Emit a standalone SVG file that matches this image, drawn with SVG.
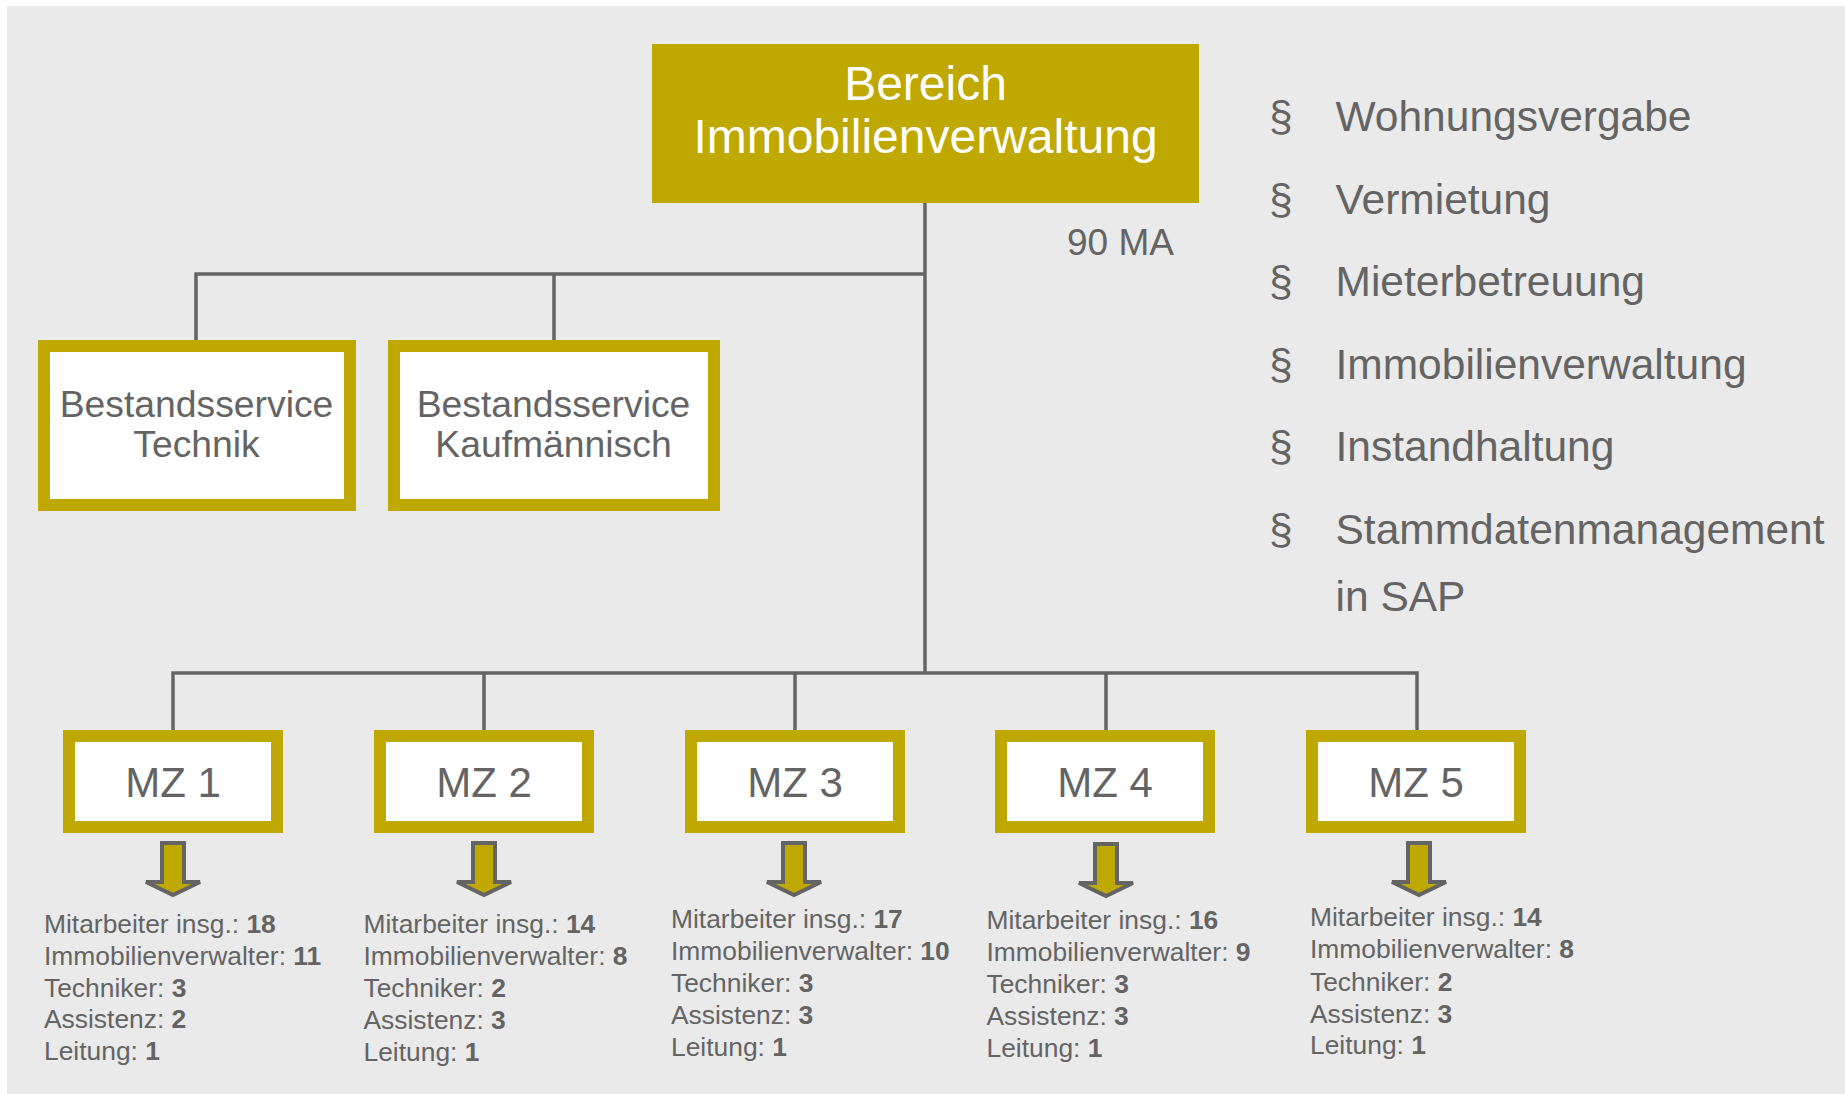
<svg xmlns="http://www.w3.org/2000/svg" width="1845" height="1094" viewBox="0 0 1845 1094">
<defs>
<style>
text{font-family:"Liberation Sans",Arial,sans-serif;fill:#646464}
.box{fill:#fff;stroke:#BFA800;stroke-width:12}
.ln{fill:none;stroke:#646464;stroke-width:3.5}
.arr{fill:#BFA800;stroke:#646464;stroke-width:4;stroke-linejoin:miter}
.top{font-size:48px;fill:#fff;text-anchor:middle}
.bs{font-size:37.3px;text-anchor:middle}
.mz{font-size:42px;text-anchor:middle}
.info{font-size:26.4px}
.info tspan.b{font-weight:bold}
.bl{font-size:42.5px}
</style>
<polygon id="arrow" class="arr" points="-11,843 11,843 11,882 27,882 0,895 -27,882 -11,882"/>
</defs>
<rect x="0" y="0" width="1845" height="1094" fill="#fff"/>
<rect x="7" y="6" width="1838" height="1088" fill="#EAEAEA"/>

<g id="connectors">
<path class="ln" d="M925,203 V673"/>
<path class="ln" d="M196,340 V274 H925"/>
<path class="ln" d="M554,274 V340"/>
<path class="ln" d="M173,730 V673 H1417 V730"/>
<path class="ln" d="M484,673 V730"/>
<path class="ln" d="M795,673 V730"/>
<path class="ln" d="M1106,673 V730"/>
</g>

<g id="node-bereich">
<rect x="652" y="44" width="547" height="159" fill="#BFA800"/>
<text class="top" x="925.5" y="100">Bereich</text>
<text class="top" x="925.5" y="152.5">Immobilienverwaltung</text>
</g>
<g id="label-90ma"><text x="1067" y="255" font-size="37">90 MA</text></g>

<g id="node-technik">
<rect class="box" x="44" y="346" width="306" height="159"/>
<text class="bs" x="196.5" y="416.5">Bestandsservice</text>
<text class="bs" x="196.5" y="456.5">Technik</text>
</g>
<g id="node-kaufm">
<rect class="box" x="394" y="346" width="320" height="159"/>
<text class="bs" x="553.5" y="416.5">Bestandsservice</text>
<text class="bs" x="553.5" y="456.5">Kaufmännisch</text>
</g>

<g id="list">
<text class="bl" x="1269" y="131">§</text><text class="bl" x="1335.5" y="131">Wohnungsvergabe</text>
<text class="bl" x="1269" y="213.6">§</text><text class="bl" x="1335.5" y="213.6">Vermietung</text>
<text class="bl" x="1269" y="296.2">§</text><text class="bl" x="1335.5" y="296.2">Mieterbetreuung</text>
<text class="bl" x="1269" y="378.8">§</text><text class="bl" x="1335.5" y="378.8">Immobilienverwaltung</text>
<text class="bl" x="1269" y="461.4">§</text><text class="bl" x="1335.5" y="461.4">Instandhaltung</text>
<text class="bl" x="1269" y="544">§</text><text class="bl" x="1335.5" y="544">Stammdatenmanagement</text>
<text class="bl" x="1335.5" y="611">in SAP</text>
</g>

<g id="node-mz1">
<rect class="box" x="69" y="736" width="208" height="91"/>
<text class="mz" x="173" y="796.5">MZ 1</text>
<use href="#arrow" x="173"/>
<text class="info" x="44" y="932.7">Mitarbeiter insg.: <tspan class="b">18</tspan></text>
<text class="info" x="44" y="964.5">Immobilienverwalter: <tspan class="b">11</tspan></text>
<text class="info" x="44" y="996.5">Techniker: <tspan class="b">3</tspan></text>
<text class="info" x="44" y="1028.3">Assistenz: <tspan class="b">2</tspan></text>
<text class="info" x="44" y="1060">Leitung: <tspan class="b">1</tspan></text>
</g>
<g id="node-mz2">
<rect class="box" x="380" y="736" width="208" height="91"/>
<text class="mz" x="484" y="796.5">MZ 2</text>
<use href="#arrow" x="484"/>
<text class="info" x="363.5" y="933.3">Mitarbeiter insg.: <tspan class="b">14</tspan></text>
<text class="info" x="363.5" y="965">Immobilienverwalter: <tspan class="b">8</tspan></text>
<text class="info" x="363.5" y="996.8">Techniker: <tspan class="b">2</tspan></text>
<text class="info" x="363.5" y="1029">Assistenz: <tspan class="b">3</tspan></text>
<text class="info" x="363.5" y="1060.7">Leitung: <tspan class="b">1</tspan></text>
</g>
<g id="node-mz3">
<rect class="box" x="691" y="736" width="208" height="91"/>
<text class="mz" x="795" y="796.5">MZ 3</text>
<use href="#arrow" x="794"/>
<text class="info" x="671" y="928.3">Mitarbeiter insg.: <tspan class="b">17</tspan></text>
<text class="info" x="671" y="960">Immobilienverwalter: <tspan class="b">10</tspan></text>
<text class="info" x="671" y="991.8">Techniker: <tspan class="b">3</tspan></text>
<text class="info" x="671" y="1024">Assistenz: <tspan class="b">3</tspan></text>
<text class="info" x="671" y="1056">Leitung: <tspan class="b">1</tspan></text>
</g>
<g id="node-mz4">
<rect class="box" x="1001" y="736" width="208" height="91"/>
<text class="mz" x="1105" y="796.5">MZ 4</text>
<use href="#arrow" x="1106" y="1"/>
<text class="info" x="986.5" y="929.3">Mitarbeiter insg.: <tspan class="b">16</tspan></text>
<text class="info" x="986.5" y="960.7">Immobilienverwalter: <tspan class="b">9</tspan></text>
<text class="info" x="986.5" y="992.7">Techniker: <tspan class="b">3</tspan></text>
<text class="info" x="986.5" y="1025">Assistenz: <tspan class="b">3</tspan></text>
<text class="info" x="986.5" y="1056.7">Leitung: <tspan class="b">1</tspan></text>
</g>
<g id="node-mz5">
<rect class="box" x="1312" y="736" width="208" height="91"/>
<text class="mz" x="1416" y="796.5">MZ 5</text>
<use href="#arrow" x="1419"/>
<text class="info" x="1310" y="926">Mitarbeiter insg.: <tspan class="b">14</tspan></text>
<text class="info" x="1310" y="958.3">Immobilienverwalter: <tspan class="b">8</tspan></text>
<text class="info" x="1310" y="990.7">Techniker: <tspan class="b">2</tspan></text>
<text class="info" x="1310" y="1022.7">Assistenz: <tspan class="b">3</tspan></text>
<text class="info" x="1310" y="1054.3">Leitung: <tspan class="b">1</tspan></text>
</g>
</svg>
